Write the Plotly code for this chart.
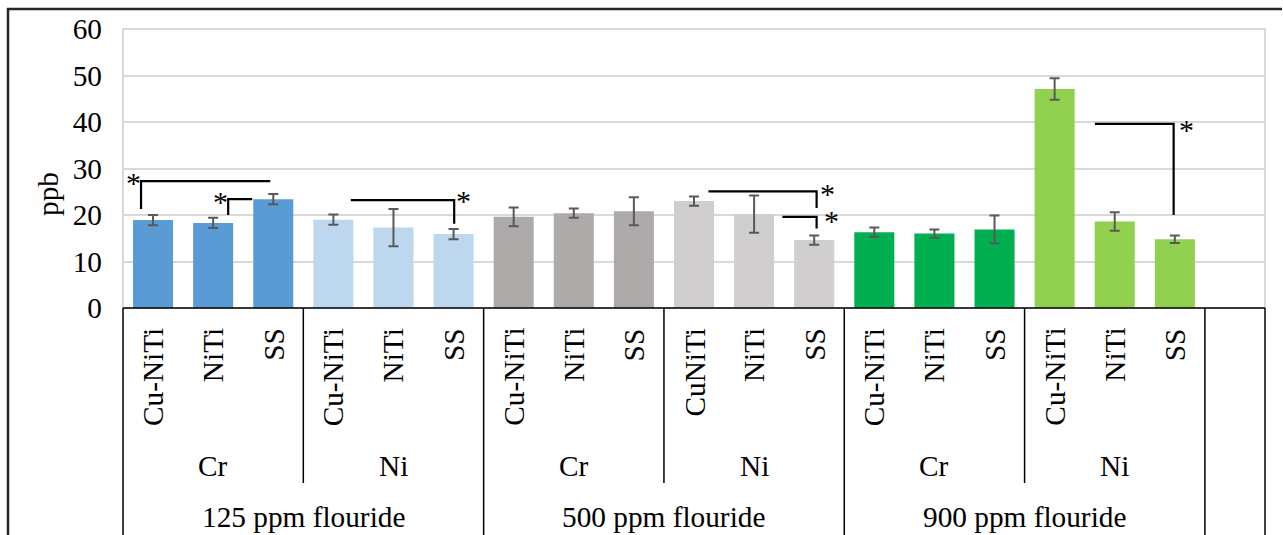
import plotly.graph_objects as go

# ---------------- data ----------------
fluoride_levels = ["125 ppm flouride", "500 ppm flouride", "900 ppm flouride"]
ions = ["Cr", "Ni"]
materials = [
    "Cu-NiTi", "NiTi", "SS",
    "Cu-NiTi", "NiTi", "SS",
    "Cu-NiTi", "NiTi", "SS",
    "CuNiTi", "NiTi", "SS",
    "Cu-NiTi", "NiTi", "SS",
    "Cu-NiTi", "NiTi", "SS",
]
values = [18.9, 18.3, 23.4, 19.0, 17.3, 15.9,
          19.6, 20.4, 20.8, 23.0, 20.2, 14.6,
          16.3, 16.0, 16.9, 47.1, 18.6, 14.8]
errors = [1.1, 1.1, 1.1, 1.1, 4.0, 1.1,
          2.0, 1.0, 3.0, 1.0, 4.0, 1.0,
          1.0, 0.9, 3.0, 2.3, 2.0, 0.8]
group_colors = ["#5B9BD5", "#BDD7EE", "#AEAAAA", "#D0CECE", "#00B050", "#92D050"]

# significance brackets (category-position units / ppb)
sig_vx = [-0.2, 1.25, 5.01, 11.04, 11.04, 16.98]
sig_hx = [1.95, 1.65, 3.29, 9.24, 10.47, 15.67]
sig_top = [27.3, 23.4, 23.2, 25.1, 19.6, 39.6]
sig_low = [21.3, 20.0, 18.1, 21.5, 17.1, 20.0]
star_x = [-0.32, 1.12, 5.16, 11.22, 11.29, 17.19]
star_y = [28.0, 24.0, 24.1, 25.7, 20.0, 39.5]

y_ticks = [0, 10, 20, 30, 40, 50, 60]

# ---------------- layout geometry ----------------
W, H = 1283, 535
ML, MR, MT, MB = 123, 18, 29, 227
PW, PH = W - ML - MR, H - MT - MB
n_mat = 3
n_bars = len(values)
n_slots = n_bars + 1  # one empty slot at the end, as in the original

def py2paper(py):
    return (H - MB - py) / PH

def px2paper(px):
    return (px - ML) / PW

def slot_paper(b):
    return (b + 0.5) / n_slots

FONT = "Liberation Serif"
FS = 29.3
colors = [group_colors[i // n_mat] for i in range(n_bars)]

fig = go.Figure()
fig.add_trace(go.Bar(
    x=list(range(n_bars)), y=values,
    width=0.666,
    marker=dict(color=colors, line=dict(width=0)),
    error_y=dict(type="data", array=errors, color="#595959", thickness=2, width=5),
    hoverinfo="skip",
))

# brackets
bx, by = [], []
for vx, hx, top, low in zip(sig_vx, sig_hx, sig_top, sig_low):
    bx += [vx, vx, hx, None]
    by += [low, top, top, None]
fig.add_trace(go.Scatter(x=bx, y=by, mode="lines",
                         line=dict(color="black", width=2.2),
                         hoverinfo="skip", cliponaxis=False))

annotations = []
for sx, sy in zip(star_x, star_y):
    annotations.append(dict(x=sx, y=sy, xref="x", yref="y", text="*", showarrow=False,
                            font=dict(family=FONT, size=30, color="black"), borderpad=0,
                            xanchor="center", yanchor="middle", yshift=-5))

# material labels (rotated)
for i, m in enumerate(materials):
    annotations.append(dict(x=i, y=py2paper(326), xref="x", yref="paper", text=m,
                            showarrow=False, textangle=-90,
                            font=dict(family=FONT, size=FS, color="black"),
                            xanchor="center", yanchor="top"))

shapes = []
n_groups = len(fluoride_levels)
per_fl = len(ions) * n_mat
for g, fl in enumerate(fluoride_levels):
    for k, ion in enumerate(ions):
        start = g * per_fl + k * n_mat
        annotations.append(dict(x=start + (n_mat - 1) / 2, y=py2paper(466), xref="x", yref="paper",
                                text=ion, showarrow=False,
                                font=dict(family=FONT, size=FS, color="black"),
                                xanchor="center", yanchor="middle"))
        if k > 0:
            b = start - 0.5
            shapes.append(dict(type="line", xref="paper", yref="paper",
                               x0=slot_paper(b), x1=slot_paper(b),
                               y0=0, y1=py2paper(483), line=dict(color="black", width=1.5)))
    annotations.append(dict(x=g * per_fl + (per_fl - 1) / 2, y=py2paper(517), xref="x", yref="paper",
                            text=fl, showarrow=False,
                            font=dict(family=FONT, size=FS, color="black"),
                            xanchor="center", yanchor="middle"))

# group boundaries (full height of table)
for b in [g * per_fl - 0.5 for g in range(n_groups + 1)] + [n_slots - 0.5]:
    shapes.append(dict(type="line", xref="paper", yref="paper",
                       x0=slot_paper(b), x1=slot_paper(b),
                       y0=0, y1=py2paper(H + 5), line=dict(color="black", width=1.5)))

# plot-area grey border
shapes.append(dict(type="rect", xref="paper", yref="paper", x0=0, x1=1, y0=0, y1=1,
                   line=dict(color="#D9D9D9", width=2), layer="below"))
# x-axis / table top line
shapes.append(dict(type="line", xref="paper", yref="paper", x0=0, x1=1, y0=0, y1=0,
                   line=dict(color="black", width=1.5)))
# outer chart frame (top and left visible)
shapes.append(dict(type="line", xref="paper", yref="paper",
                   x0=px2paper(7), x1=px2paper(1282), y0=py2paper(9), y1=py2paper(9),
                   line=dict(color="#262626", width=2.5)))
shapes.append(dict(type="line", xref="paper", yref="paper",
                   x0=px2paper(8), x1=px2paper(8), y0=py2paper(8), y1=py2paper(H + 5),
                   line=dict(color="#262626", width=2.5)))

# y-axis title
annotations.append(dict(x=px2paper(48), y=py2paper(194), xref="paper", yref="paper",
                        text="ppb", showarrow=False, textangle=-90,
                        font=dict(family=FONT, size=FS, color="black"),
                        xanchor="center", yanchor="middle"))

fig.update_layout(
    width=W, height=H,
    margin=dict(l=ML, r=MR, t=MT, b=MB, autoexpand=False),
    paper_bgcolor="white", plot_bgcolor="white",
    showlegend=False,
    xaxis=dict(range=[-0.5, n_slots - 0.5], showticklabels=False, showgrid=False,
               zeroline=False, showline=False, ticks="", fixedrange=True),
    yaxis=dict(range=[0, 60], tickvals=y_ticks, ticktext=[str(t) for t in y_ticks],
               showgrid=True, gridcolor="#D9D9D9", gridwidth=2, zeroline=False,
               showline=False, ticks="", ticklabelstandoff=20, automargin=False,
               tickfont=dict(family=FONT, size=FS, color="black"), fixedrange=True),
    shapes=shapes,
    annotations=annotations,
)

fig.write_html("out.html", config={"displayModeBar": False},
               post_script="document.body.style.margin='0';document.body.style.overflow='hidden';")
